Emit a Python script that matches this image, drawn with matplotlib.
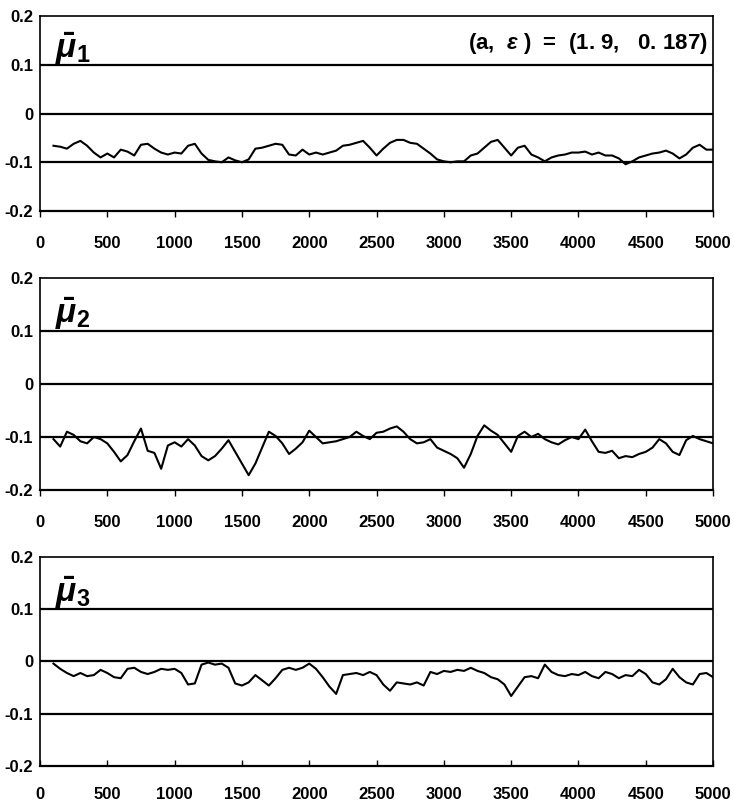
import matplotlib
matplotlib.use("Agg")
import matplotlib.pyplot as plt
import numpy as np

plt.rcParams['mathtext.fontset'] = 'custom'
plt.rcParams['mathtext.rm'] = 'Liberation Sans:bold'
plt.rcParams['mathtext.it'] = 'Liberation Sans:bold:italic'
plt.rcParams['mathtext.bf'] = 'Liberation Sans:bold'

t = list(range(100, 5001, 50))

mu1 = [-0.066, -0.068, -0.072, -0.062, -0.056, -0.066, -0.080, -0.090, -0.082, -0.090,
       -0.074, -0.078, -0.086, -0.064, -0.062, -0.072, -0.080, -0.084, -0.080, -0.082,
       -0.066, -0.062, -0.082, -0.095, -0.098, -0.100, -0.090, -0.096, -0.100, -0.094,
       -0.072, -0.070, -0.066, -0.062, -0.064, -0.084, -0.086, -0.074, -0.084, -0.080,
       -0.084, -0.080, -0.076, -0.066, -0.064, -0.060, -0.056, -0.070, -0.086, -0.072,
       -0.060, -0.054, -0.054, -0.060, -0.062, -0.072, -0.082, -0.094, -0.098, -0.100,
       -0.098, -0.098, -0.086, -0.082, -0.070, -0.058, -0.054, -0.070, -0.086, -0.070,
       -0.066, -0.084, -0.090, -0.098, -0.090, -0.086, -0.084, -0.080, -0.080, -0.078,
       -0.084, -0.080, -0.086, -0.086, -0.092, -0.104, -0.098, -0.090, -0.086, -0.082,
       -0.080, -0.076, -0.082, -0.092, -0.084, -0.070, -0.064, -0.074, -0.074]

mu2 = [-0.104, -0.118, -0.090, -0.096, -0.108, -0.112, -0.100, -0.104, -0.112, -0.128,
       -0.146, -0.134, -0.108, -0.084, -0.126, -0.130, -0.160, -0.116, -0.110, -0.118,
       -0.104, -0.116, -0.136, -0.144, -0.136, -0.122, -0.106, -0.128, -0.150, -0.172,
       -0.150, -0.120, -0.090, -0.098, -0.112, -0.132, -0.122, -0.110, -0.088, -0.100,
       -0.112, -0.110, -0.108, -0.104, -0.100, -0.090, -0.098, -0.104, -0.092, -0.090,
       -0.084, -0.080, -0.090, -0.104, -0.112, -0.110, -0.104, -0.120, -0.126, -0.132,
       -0.140, -0.158, -0.132, -0.098, -0.078, -0.088, -0.096, -0.112, -0.128, -0.098,
       -0.090, -0.100, -0.094, -0.104, -0.110, -0.114, -0.106, -0.100, -0.104, -0.086,
       -0.108, -0.128, -0.130, -0.126, -0.140, -0.136, -0.138, -0.132, -0.128, -0.120,
       -0.104, -0.112, -0.128, -0.134, -0.106, -0.098, -0.104, -0.108, -0.112]

mu3 = [-0.004, -0.014, -0.022, -0.028, -0.022, -0.028, -0.026, -0.016, -0.022, -0.030,
       -0.032, -0.014, -0.012, -0.020, -0.024, -0.020, -0.014, -0.016, -0.014, -0.022,
       -0.044, -0.042, -0.006, -0.002, -0.006, -0.004, -0.012, -0.042, -0.046, -0.040,
       -0.026, -0.036, -0.046, -0.032, -0.016, -0.012, -0.016, -0.012, -0.004, -0.014,
       -0.030, -0.048, -0.062, -0.026, -0.024, -0.022, -0.026, -0.020, -0.026, -0.044,
       -0.056, -0.040, -0.042, -0.044, -0.040, -0.046, -0.020, -0.024, -0.018, -0.020,
       -0.016, -0.018, -0.012, -0.018, -0.022, -0.030, -0.034, -0.044, -0.066, -0.048,
       -0.030, -0.028, -0.032, -0.006, -0.020, -0.026, -0.028, -0.024, -0.026, -0.020,
       -0.028, -0.032, -0.020, -0.024, -0.032, -0.026, -0.028, -0.016, -0.024, -0.040,
       -0.044, -0.034, -0.014, -0.030, -0.040, -0.044, -0.024, -0.022, -0.030]

series = [mu1, mu2, mu3]
labels = [r'$\bar{\mu}_{1}$', r'$\bar{\mu}_{2}$', r'$\bar{\mu}_{3}$']
xticks = [0, 500, 1000, 1500, 2000, 2500, 3000, 3500, 4000, 4500, 5000]
yticks = [-0.2, -0.1, 0, 0.1, 0.2]
yticklabels = ['-0.2', '-0.1', '0', '0.1', '0.2']
annotation = r'(a,  $\varepsilon$ )  =  (1. 9,   0. 187)'

fig = plt.figure(figsize=(7.34, 8.07), dpi=100)
rects = [
    [0.0545, 0.7385, 0.9170, 0.2415],
    [0.0545, 0.3928, 0.9170, 0.2627],
    [0.0545, 0.0508, 0.9170, 0.2590],
]
tick_font = dict(family='Liberation Sans', weight='bold')

for i, (rect, y, lab) in enumerate(zip(rects, series, labels)):
    ax = fig.add_axes(rect)
    ax.plot(t, y, color='black', lw=1.5)
    ax.set_xlim(0, 5000)
    ax.set_ylim(-0.2, 0.2)
    for g in [0.1, 0.0, -0.1]:
        ax.axhline(g, color='black', lw=1.6, zorder=1)
    for s in ax.spines.values():
        s.set_linewidth(1.2)
        s.set_color('black')
    ax.spines['bottom'].set_linewidth(1.6)
    ax.set_xticks(xticks)
    ax.set_xticklabels([str(v) for v in xticks], fontsize=12, **tick_font)
    ax.set_yticks(yticks)
    ax.set_yticklabels(yticklabels, fontsize=12, **tick_font)
    ax.tick_params(axis='y', length=0, pad=5)
    ax.tick_params(axis='x', length=4, width=1, direction='in' if i == 2 else 'out',
                   pad=14 if i < 2 else 15)
    ax.text(0.022, 0.83, lab, transform=ax.transAxes, fontsize=24,
            ha='left', va='center', color='black')
    if i == 0:
        ax.text(0.992, 0.86, annotation, transform=ax.transAxes, fontsize=16,
                ha='right', va='center', fontweight='bold',
                family='Liberation Sans')

fig.savefig('out.png', dpi=100)
